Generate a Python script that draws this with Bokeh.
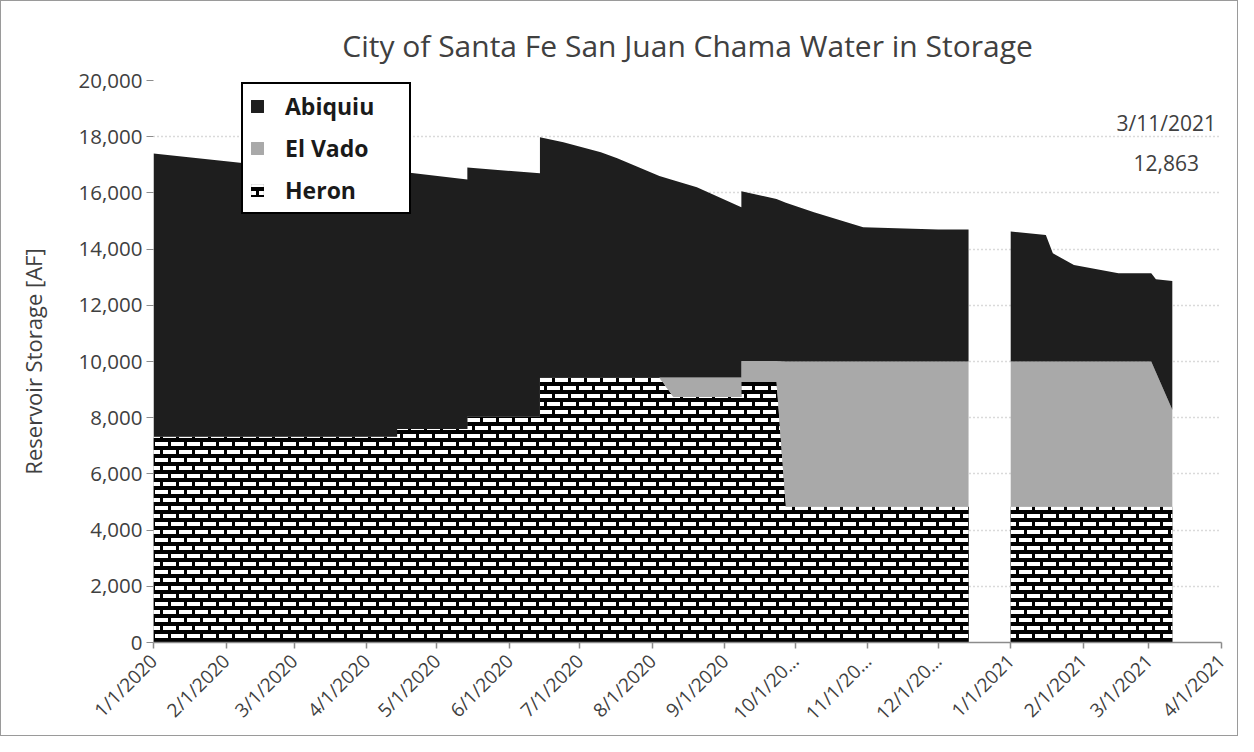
import base64
import struct
import zlib
import pandas as pd
from bokeh.plotting import figure
from bokeh.models import (ColumnDataSource, Legend, LegendItem, Label, FixedTicker,
                          NumeralTickFormatter, ImageURLTexture, Range1d)
from bokeh.core.properties import value
from bokeh.transform import stack
from bokeh.embed import file_html
from bokeh.resources import INLINE

# ---------------- data ----------------
dates = ["2020-01-01", "2020-02-04", "2020-04-14", "2020-04-14", "2020-05-14", "2020-05-14",
         "2020-06-14", "2020-06-14", "2020-06-24", "2020-07-10", "2020-07-17", "2020-08-04",
         "2020-08-10", "2020-08-20", "2020-09-08", "2020-09-08", "2020-09-23", "2020-09-27",
         "2020-10-09", "2020-10-30", "2020-12-01", "2020-12-14",
         "2021-01-01", "2021-01-16", "2021-01-19", "2021-01-28", "2021-02-16", "2021-03-02",
         "2021-03-04", "2021-03-11"]
heron = [7320, 7320, 7320, 7600, 7600, 8030, 8030, 9430, 9430, 9430, 9430, 9430,
         8740, 8740, 8740, 9270, 9270, 4830, 4830, 4830, 4830, 4830,
         4830, 4830, 4830, 4830, 4830, 4830, 4830, 4830]
el_vado = [0, 0, 0, 0, 0, 0, 0, 0, 0, 0, 0, 0,
           690, 690, 690, 750, 750, 5170, 5170, 5170, 5170, 5170,
           5170, 5170, 5170, 5170, 5170, 5170, 4790, 3450]
abiquiu = [10080, 9780, 9170, 9170, 8880, 8870, 8670, 8550, 8370, 8020, 7800, 7170,
           7020, 6770, 6060, 6040, 5760, 5650, 5310, 4780, 4700, 4700,
           4630, 4500, 3850, 3430, 3140, 3140, 3310, 4583]
series_names = ["Abiquiu", "El Vado", "Heron"]

tick_dates = ["2020-01-01", "2020-02-01", "2020-03-01", "2020-04-01", "2020-05-01",
              "2020-06-01", "2020-07-01", "2020-08-01", "2020-09-01", "2020-10-01",
              "2020-11-01", "2020-12-01", "2021-01-01", "2021-02-01", "2021-03-01",
              "2021-04-01"]
tick_labels = ["1/1/2020", "2/1/2020", "3/1/2020", "4/1/2020", "5/1/2020", "6/1/2020",
               "7/1/2020", "8/1/2020", "9/1/2020", "10/1/20\u2026", "11/1/20\u2026",
               "12/1/20\u2026", "1/1/2021", "2/1/2021", "3/1/2021", "4/1/2021"]
y_ticks = [0, 2000, 4000, 6000, 8000, 10000, 12000, 14000, 16000, 18000, 20000]

title_text = "City of Santa Fe San Juan Chama Water in Storage"
y_label = "Reservoir Storage [AF]"
latest_date_label = "3/11/2021"
latest_date = "2021-03-11"
latest_total = 12863

FONT = "Open Sans"
TXT = "#404040"


# ---------------- brick texture for the Heron fill ----------------
def brick_png(size=16, brick_w=13, brick_h=4):
    rows = []
    for y in range(size):
        row = bytearray(b"\x00")
        for x in range(size):
            top = 1 <= y < 1 + brick_h and 2 <= x < 2 + brick_w
            xs = (x + size // 2) % size
            bot = 9 <= y < 9 + brick_h and 2 <= xs < 2 + brick_w
            row += bytes((255, 255, 255, 255)) if (top or bot) else bytes((0, 0, 0, 255))
        rows.append(bytes(row))
    raw = b"".join(rows)

    def chunk(tag, data):
        return (struct.pack(">I", len(data)) + tag + data +
                struct.pack(">I", zlib.crc32(tag + data) & 0xFFFFFFFF))

    png = (b"\x89PNG\r\n\x1a\n" +
           chunk(b"IHDR", struct.pack(">IIBBBBB", size, size, 8, 6, 0, 0, 0)) +
           chunk(b"IDAT", zlib.compress(raw)) + chunk(b"IEND", b""))
    return "data:image/png;base64," + base64.b64encode(png).decode()


brick = ImageURLTexture(url=brick_png())

# ---------------- sources ----------------
df = pd.DataFrame({"date": pd.to_datetime(dates), "heron": heron,
                   "el_vado": el_vado, "abiquiu": abiquiu})
cut = pd.Timestamp("2020-12-25")
sources = [ColumnDataSource(df[df["date"] < cut].reset_index(drop=True)),
           ColumnDataSource(df[df["date"] >= cut].reset_index(drop=True))]


def ms(d):
    return pd.Timestamp(d).value / 1e6


p = figure(width=1238, height=736, x_axis_type="datetime",
           x_range=Range1d(pd.Timestamp(tick_dates[0]), pd.Timestamp(tick_dates[-1])),
           y_range=Range1d(y_ticks[0], y_ticks[-1]),
           output_backend="svg", toolbar_location=None,
           min_border_left=152, min_border_right=18, min_border_top=79, min_border_bottom=94,
           title=title_text)
p.styles = {"border": "1px solid #9a9a9a", "box-sizing": "border-box"}

p.title.align = "center"
p.title.text_font = FONT
p.title.text_font_size = "30px"
p.title.text_font_style = "normal"
p.title.text_color = TXT
p.title.standoff = 30
p.title.offset = -7

p.outline_line_color = None
p.background_fill_color = "white"
p.border_fill_color = "white"

r_heron, r_vado, r_abiq = [], [], []
for src in sources:
    r_heron.append(p.varea(x="date", y1=0, y2=stack("heron"), source=src,
                           fill_color="#111111", hatch_pattern=value("brick"),
                           hatch_extra={"brick": brick}, hatch_alpha=1.0))
    r_vado.append(p.varea(x="date", y1=stack("heron"), y2=stack("heron", "el_vado"),
                          source=src, fill_color="#a9a9a9"))
    r_abiq.append(p.varea(x="date", y1=stack("heron", "el_vado"),
                          y2=stack("heron", "el_vado", "abiquiu"),
                          source=src, fill_color="#1e1e1e"))

# axes
xa = p.xaxis[0]
xa.ticker = FixedTicker(ticks=[ms(d) for d in tick_dates])
xa.major_label_overrides = {ms(d): lab for d, lab in zip(tick_dates, tick_labels)}
xa.major_label_orientation = 0.785398
xa.major_label_text_font = FONT
xa.major_label_text_font_size = "19px"
xa.major_label_text_color = TXT
xa.axis_line_color = "#8c8c8c"
xa.axis_line_width = 1.5
xa.major_tick_line_color = "#8c8c8c"
xa.major_tick_line_width = 1.5
xa.major_tick_in = 0
xa.major_tick_out = 6
xa.minor_tick_line_color = None
xa.major_label_standoff = 9

ya = p.yaxis[0]
ya.ticker = FixedTicker(ticks=y_ticks)
ya.formatter = NumeralTickFormatter(format="0,0")
ya.major_label_text_font = FONT
ya.major_label_text_font_size = "20.5px"
ya.major_label_text_color = TXT
ya.axis_line_color = None
ya.major_tick_line_color = "#8c8c8c"
ya.major_tick_in = 0
ya.major_tick_out = 7
ya.minor_tick_line_color = None
ya.major_label_standoff = 4
ya.axis_label = y_label
ya.axis_label_text_font = FONT
ya.axis_label_text_font_size = "22px"
ya.axis_label_text_font_style = "normal"
ya.axis_label_text_color = TXT
ya.axis_label_standoff = 28

p.xgrid.grid_line_color = None
p.ygrid.grid_line_color = "#b5b5b5"
p.ygrid.grid_line_dash = "1 3"
p.ygrid.grid_line_width = 1.3

# annotation of the latest value
for txt, yv in ((latest_date_label, 18500), (f"{latest_total:,}", 17080)):
    p.add_layout(Label(x=ms(latest_date), y=yv, x_offset=-6, text=txt,
                       text_align="center", text_baseline="middle",
                       text_font=FONT, text_font_size="21px", text_color=TXT))

legend = Legend(items=[LegendItem(label=series_names[0], renderers=r_abiq),
                       LegendItem(label=series_names[1], renderers=r_vado),
                       LegendItem(label=series_names[2], renderers=r_heron)],
                location=(88, 428), orientation="vertical",
                border_line_color="black", border_line_width=2, border_line_alpha=1,
                background_fill_color="white", background_fill_alpha=1,
                padding=6, spacing=10, margin=0,
                glyph_width=16, glyph_height=16, label_height=26, label_width=118,
                label_standoff=20, label_text_font=FONT, label_text_font_size="23px",
                label_text_font_style="bold", label_text_color="#1a1a1a")
p.add_layout(legend)

open("out.html", "w").write(file_html(p, INLINE))
